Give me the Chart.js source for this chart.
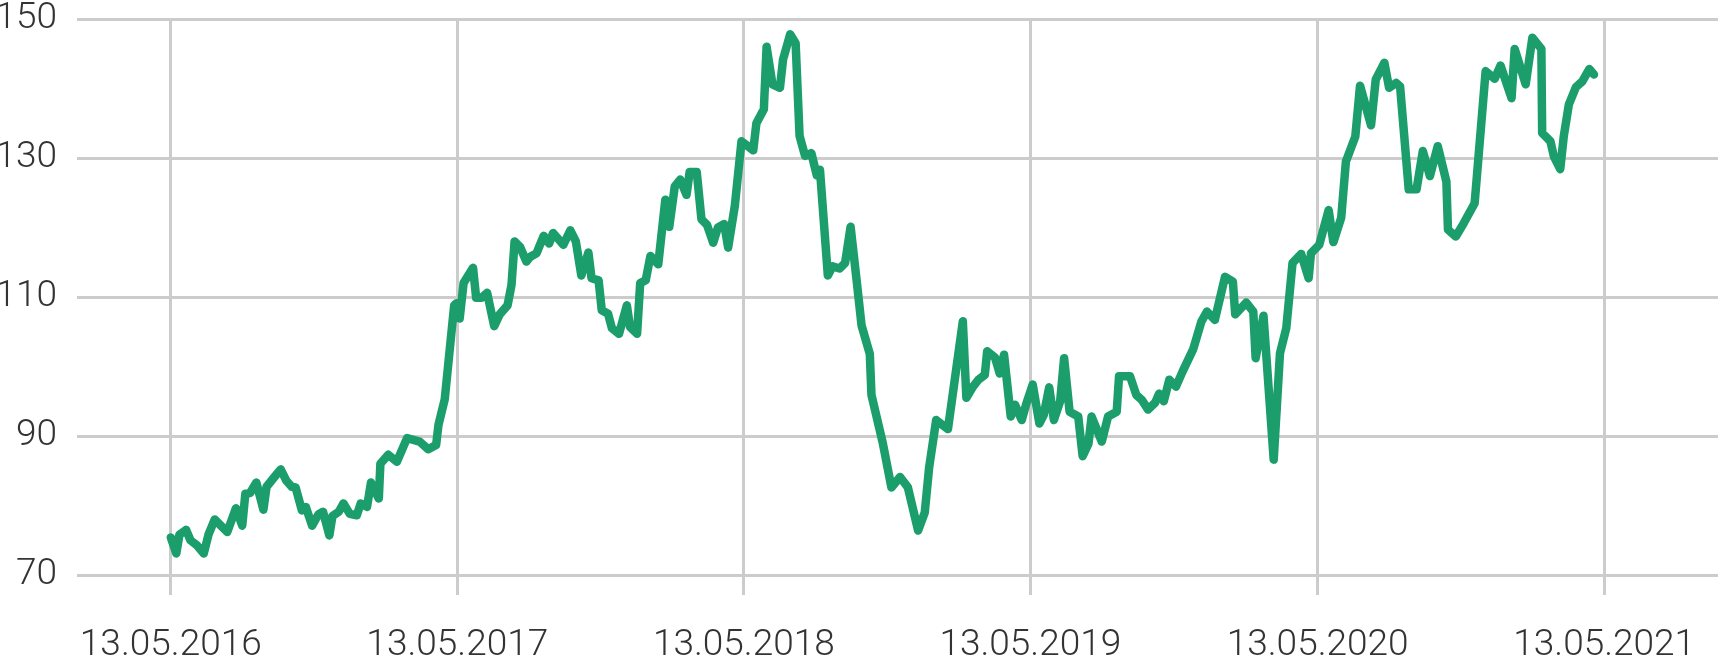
<!DOCTYPE html>
<html>
<head>
<meta charset="utf-8">
<script src="https://cdn.jsdelivr.net/npm/chart.js@4/dist/chart.umd.min.js"></script>
<style>
  html, body { margin: 0; padding: 0; background: #fff; }
  #wrap { width: 1718px; height: 658px; position: relative; }
</style>
</head>
<body>
<div id="wrap"><canvas id="chart"></canvas></div>
<script>
// días desde el 13.05.2016 y valor de la serie
const dayOffsets = [
  0, 7, 11, 19.5, 25, 33, 42, 48, 56, 63, 72, 83, 91, 95, 101, 109, 118, 122, 132, 140,
  147, 154, 159, 167, 172, 180, 188, 194, 202, 206, 214, 220, 228, 237, 242, 250, 255, 265, 267, 277,
  288, 301, 317, 328, 338, 341, 349, 361, 364, 368, 373, 385, 389, 396, 403, 412, 419, 429, 434, 438,
  445, 453, 458, 466, 475, 482, 487, 494, 500, 509, 516, 523, 532, 536, 545, 549, 557, 562, 571, 581,
  585, 594, 598, 605, 611, 621, 630, 635, 642, 649, 657, 661, 670, 676, 683, 691, 697, 705, 710, 718.5,
  727, 733, 742, 746, 755.5, 759, 766.5, 776, 780, 789, 796, 801, 808, 816, 823, 827, 837, 843, 852, 859,
  866, 873.5, 880, 890.5, 892.6, 907, 918, 929, 939, 952, 960.5, 966, 975, 990, 997, 1009, 1013.5, 1022, 1029, 1037,
  1040, 1050, 1056, 1061.5, 1070, 1075.5, 1084, 1090, 1098, 1106.5, 1112, 1119, 1125, 1133, 1138, 1145, 1156, 1161.6, 1169, 1173,
  1186, 1194, 1205, 1208, 1222, 1230, 1237, 1245, 1254, 1259, 1265, 1272, 1280.5, 1289, 1302.5, 1313, 1320, 1330, 1343, 1353,
  1356, 1370, 1379, 1382, 1392, 1405, 1413, 1421, 1429, 1440, 1449.5, 1452.5, 1463, 1475, 1481, 1491, 1497, 1509, 1515, 1529,
  1535, 1546, 1552, 1561, 1566, 1577, 1587, 1595, 1604, 1614, 1625, 1627, 1637, 1647, 1661, 1675, 1686.5, 1694, 1708, 1712,
  1726, 1734.5, 1746, 1747, 1757.5, 1762, 1770, 1774.5, 1781, 1790, 1798, 1807, 1813
];

const values = [
  75.4, 73.1, 75.8, 76.5, 75.0, 74.3, 73.1, 75.8, 78.0, 77.2, 76.2, 79.6, 77.1, 81.7, 81.8, 83.3, 79.4, 82.7, 84.1, 85.2,
  83.6, 82.7, 82.6, 79.3, 79.8, 77.1, 78.7, 79.1, 75.7, 78.5, 79.1, 80.3, 78.8, 78.6, 80.3, 79.8, 83.3, 81.0, 86.0, 87.3,
  86.3, 89.7, 89.2, 88.1, 88.7, 91.6, 95.3, 108.8, 109.1, 106.9, 112.0, 114.2, 109.9, 109.9, 110.6, 105.8, 107.5, 108.8, 111.7, 118.0,
  117.2, 115.1, 115.8, 116.3, 118.8, 117.7, 119.2, 118.3, 117.5, 119.6, 118.0, 113.1, 116.4, 112.7, 112.4, 108.1, 107.6, 105.5, 104.7, 108.8,
  105.7, 104.7, 112.0, 112.4, 115.9, 114.7, 124.0, 120.1, 125.9, 126.9, 124.7, 128.0, 128.0, 121.2, 120.4, 117.8, 120.0, 120.5, 117.1, 123.1,
  132.4, 131.9, 131.1, 135.0, 137.0, 146.0, 140.6, 140.1, 144.2, 147.8, 146.5, 133.2, 130.3, 130.7, 127.5, 128.3, 113.1, 114.4, 114.1, 114.9,
  120.1, 112.6, 105.9, 101.8, 95.9, 89.0, 82.6, 84.1, 82.6, 76.4, 79.0, 85.4, 92.3, 91.0, 96.7, 106.5, 95.5, 97.1, 98.1, 98.8,
  102.2, 101.3, 99.0, 101.7, 92.8, 94.5, 92.3, 94.7, 97.4, 91.8, 93.0, 97.0, 92.3, 95.0, 101.2, 93.5, 92.8, 87.1, 88.9, 92.8,
  89.2, 92.8, 93.5, 98.6, 98.6, 95.9, 95.2, 93.8, 94.8, 96.1, 95.0, 98.1, 97.1, 99.3, 102.5, 106.5, 107.9, 106.7, 112.9, 112.2,
  107.5, 109.2, 107.9, 101.2, 107.3, 86.6, 101.9, 105.5, 114.9, 116.2, 112.7, 116.3, 117.5, 122.5, 117.9, 121.4, 129.5, 133.1, 140.4, 134.7,
  141.3, 143.7, 140.1, 140.8, 140.3, 125.5, 125.5, 131.0, 127.4, 131.7, 126.6, 119.7, 118.7, 120.6, 123.5, 142.5, 141.4, 143.3, 138.6, 145.7,
  140.6, 147.3, 145.7, 133.6, 132.4, 130.2, 128.4, 133.1, 137.7, 140.2, 141.0, 142.8, 142.0
];

// ticks del eje x (13 de mayo de cada año)
const tickDays   = [0, 365, 730, 1095, 1461, 1826];
const tickLabels = ['13.05.2016', '13.05.2017', '13.05.2018', '13.05.2019', '13.05.2020', '13.05.2021'];

const GRID  = '#cccccc';
const GREEN = '#1b9e6b';
const FONT  = { family: 'Roboto', size: 37, weight: '300' };

new Chart(document.getElementById('chart'), {
  type: 'line',
  data: {
    datasets: [{
      data: dayOffsets.map((d, i) => ({ x: d, y: values[i] })),
      borderColor: GREEN,
      borderWidth: 8.5,
      borderJoinStyle: 'round',
      borderCapStyle: 'round',
      pointRadius: 0,
      tension: 0,
      fill: false
    }]
  },
  options: {
    responsive: true,
    maintainAspectRatio: false,
    animation: false,
    layout: { padding: { top: 19, right: 0, bottom: 0, left: 0 } },
    plugins: { legend: { display: false }, tooltip: { enabled: false } },
    scales: {
      x: {
        type: 'linear',
        min: -94,
        max: 1971,
        afterBuildTicks: s => { s.ticks = tickDays.map(v => ({ value: v })); },
        afterFit: s => { s.height = 83; s.paddingLeft = 0; s.paddingRight = 0; },
        ticks: {
          autoSkip: false,
          maxRotation: 0,
          padding: 29,
          color: '#333',
          font: FONT,
          callback: (v, i) => tickLabels[i]
        },
        grid: { color: GRID, lineWidth: 3, drawTicks: true, tickLength: 20 },
        border: { display: false }
      },
      y: {
        min: 70,
        max: 150,
        afterFit: s => { s.width = 97; s.paddingTop = 0; s.paddingBottom = 0; },
        ticks: {
          stepSize: 20,
          padding: 20,
          color: '#333',
          font: FONT
        },
        grid: { color: GRID, lineWidth: 3, drawTicks: true, tickLength: 20 },
        border: { display: false }
      }
    }
  }
});
</script>
</body>
</html>
